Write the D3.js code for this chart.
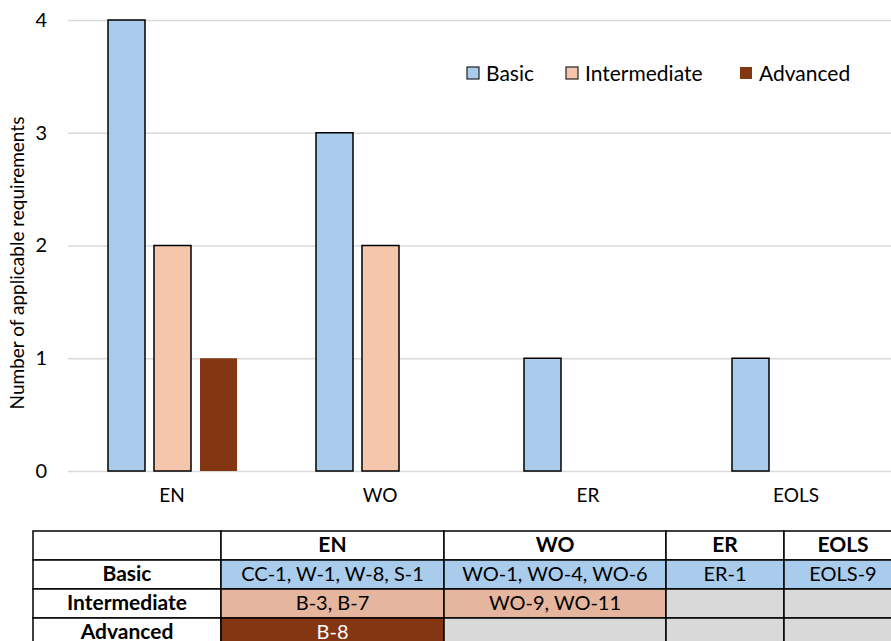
<!DOCTYPE html>
<html>
<head>
<meta charset="utf-8">
<script src="https://cdn.jsdelivr.net/npm/d3@7"></script>
<style>
  body { margin: 0; background: #fff; }
  svg { display: block; font-family: Lato, "Open Sans", sans-serif; }
</style>
</head>
<body>
<svg width="891" height="641"></svg>
<script>
const categories = ["EN", "WO", "ER", "EOLS"];
const levels = ["Basic", "Intermediate", "Advanced"];
const basicValues = [4, 3, 1, 1];
const intermediateValues = [2, 2, 0, 0];
const advancedValues = [1, 0, 0, 0];
const yTicks = [0, 1, 2, 3, 4];

// table contents: one row per level, one cell per category
const basicCodes = ["CC-1, W-1, W-8, S-1", "WO-1, WO-4, WO-6", "ER-1", "EOLS-9"];
const intermediateCodes = ["B-3, B-7", "WO-9, WO-11", "", ""];
const advancedCodes = ["B-8", "", "", ""];

const colors = { Basic: "#a9cbec", Intermediate: "#f5c6ac", Advanced: "#843612" };
const tableColors = { Basic: "#a9cbec", Intermediate: "#e5b69d", Advanced: "#843612" };

const seriesValues = { Basic: basicValues, Intermediate: intermediateValues, Advanced: advancedValues };
const seriesCodes = { Basic: basicCodes, Intermediate: intermediateCodes, Advanced: advancedCodes };

const svg = d3.select("svg");

const x = d3.scaleBand()
    .domain(categories)
    .range([68, 900]);

const xSub = d3.scaleBand()
    .domain(levels)
    .range([40, 169])
    .paddingInner(9 / 46);

const y = d3.scaleLinear()
    .domain([0, 4])
    .range([471, 20]);

// gridlines
svg.append("g")
    .selectAll("line")
    .data(yTicks)
    .join("line")
    .attr("x1", 68)
    .attr("x2", 891)
    .attr("y1", d => y(d) + 0.5)
    .attr("y2", d => y(d) + 0.5)
    .attr("stroke", "#d9d9d9")
    .attr("stroke-width", 1.3);

// y axis labels
const yAxis = d3.axisLeft(y)
    .tickValues(yTicks)
    .tickFormat(d3.format("d"))
    .tickSize(0)
    .tickPadding(0);
svg.append("g")
    .attr("transform", "translate(47, 0)")
    .call(yAxis)
    .attr("font-family", null)
    .attr("font-size", null)
    .call(g => g.select(".domain").remove())
    .selectAll("text")
    .style("font-size", "20px")
    .attr("fill", "#000");

svg.append("text")
    .attr("transform", "translate(24, 263) rotate(-90)")
    .attr("text-anchor", "middle")
    .style("font-size", "19px")
    .text("Number of applicable requirements");

// x axis labels
const xAxis = d3.axisBottom(x).tickSize(0).tickPadding(0);
svg.append("g")
    .attr("transform", "translate(0, 488)")
    .call(xAxis)
    .attr("font-family", null)
    .attr("font-size", null)
    .call(g => g.select(".domain").remove())
    .selectAll("text")
    .style("font-size", "19px")
    .attr("fill", "#000");

// bars
const barData = [];
categories.forEach((c, i) => {
  levels.forEach(l => {
    const v = seriesValues[l][i];
    if (v > 0) barData.push({ category: c, level: l, value: v });
  });
});

svg.append("g")
    .selectAll("rect")
    .data(barData)
    .join("rect")
    .attr("x", d => x(d.category) + xSub(d.level))
    .attr("y", d => y(d.value))
    .attr("width", xSub.bandwidth())
    .attr("height", d => y(0) - y(d.value))
    .attr("fill", d => colors[d.level])
    .attr("stroke", d => d.level === "Advanced" ? "none" : "#000")
    .attr("stroke-width", 1.5);

// legend
const legendX = [467, 566, 740];
const legend = svg.append("g")
    .selectAll("g")
    .data(levels)
    .join("g")
    .attr("transform", (d, i) => `translate(${legendX[i]}, 67)`);

legend.append("rect")
    .attr("width", 12)
    .attr("height", 12)
    .attr("fill", d => colors[d])
    .attr("stroke", d => d === "Advanced" ? "none" : "#222")
    .attr("stroke-width", 1.2);

legend.append("text")
    .attr("x", 19)
    .attr("y", 14)
    .style("font-size", "21px")
    .text(d => d);

// table below the chart
const colEdges = [33, 221, 444, 666, 784, 902];
const rowEdges = [531, 560, 589, 618, 647];
const table = svg.append("g");

const cells = [];
cells.push({ row: 0, col: 0, text: "", fill: "#fff", bold: true, color: "#000" });
categories.forEach((c, i) => {
  cells.push({ row: 0, col: i + 1, text: c, fill: "#fff", bold: true, color: "#000" });
});
levels.forEach((l, r) => {
  cells.push({ row: r + 1, col: 0, text: l, fill: "#fff", bold: true, color: "#000" });
  categories.forEach((c, i) => {
    const t = seriesCodes[l][i];
    cells.push({
      row: r + 1, col: i + 1, text: t,
      fill: t ? tableColors[l] : "#d9d9d9",
      bold: false,
      color: l === "Advanced" ? "#fff" : "#000"
    });
  });
});

table.selectAll("rect")
    .data(cells)
    .join("rect")
    .attr("x", d => colEdges[d.col])
    .attr("y", d => rowEdges[d.row])
    .attr("width", d => colEdges[d.col + 1] - colEdges[d.col])
    .attr("height", d => rowEdges[d.row + 1] - rowEdges[d.row])
    .attr("fill", d => d.fill)
    .attr("stroke", "#000")
    .attr("stroke-width", 1.5);

table.selectAll("text")
    .data(cells.filter(d => d.text))
    .join("text")
    .attr("x", d => (colEdges[d.col] + colEdges[d.col + 1]) / 2)
    .attr("y", d => (rowEdges[d.row] + rowEdges[d.row + 1]) / 2 + 6.5)
    .attr("text-anchor", "middle")
    .style("font-size", d => d.bold ? "21px" : "20px")
    .attr("font-weight", d => d.bold ? "bold" : "normal")
    .attr("fill", d => d.color)
    .text(d => d.text);
</script>
</body>
</html>
